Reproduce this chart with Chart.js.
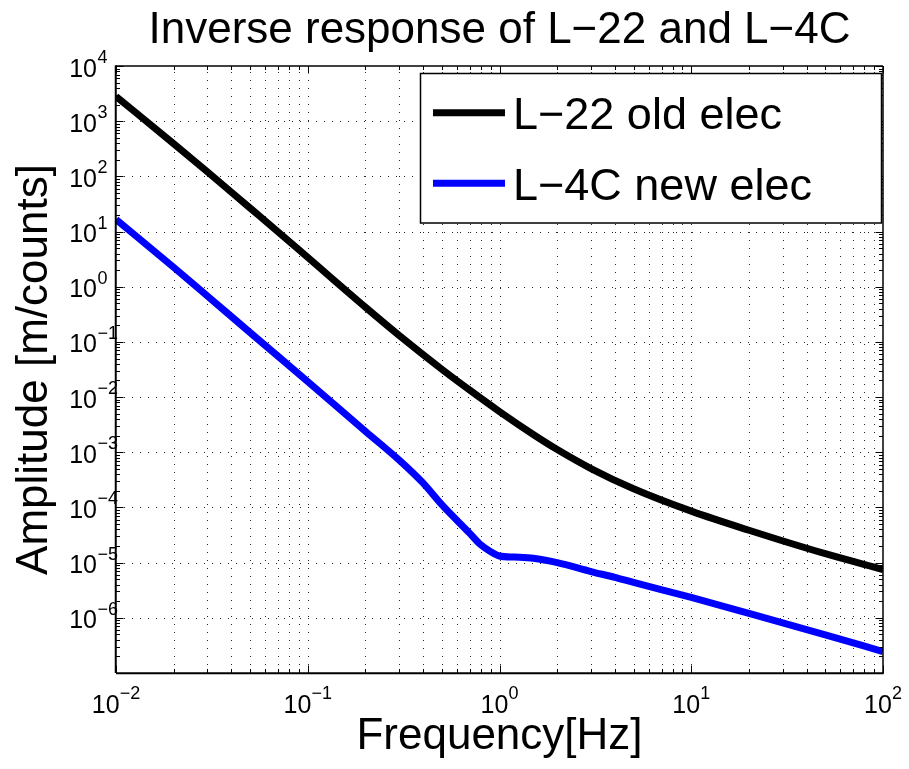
<!DOCTYPE html>
<html>
<head>
<meta charset="utf-8">
<script src="https://cdn.jsdelivr.net/npm/chart.js@4.4.1/dist/chart.umd.min.js"></script>
<style>
  html, body { margin: 0; padding: 0; background: #ffffff; }
  #wrap { width: 909px; height: 769px; position: relative; }
</style>
</head>
<body>
<div id="wrap"><canvas id="c"></canvas></div>
<script>
// ---------------- data ----------------
const titleText = 'Inverse response of L\u221222 and L\u22124C';
const xAxisTitle = 'Frequency[Hz]';
const yAxisTitle = 'Amplitude [m/counts]';
const seriesNames = ['L\u221222 old elec', 'L\u22124C new elec'];
const seriesColors = ['#000000', '#0000ff'];

const freqOld = [0.01, 0.02, 0.03, 0.05, 0.07, 0.1, 0.2, 0.3, 0.5, 0.7, 1, 1.5, 2, 3, 5, 10, 20, 50, 100];
const ampOld  = [2818, 391, 120.5, 26.7, 9.89, 3.39, 0.424, 0.1306, 0.032, 0.01334, 0.00546, 0.0021, 0.00112, 5.07e-4, 2.18e-4, 8.57e-5, 3.86e-5, 1.45e-5, 7.5e-6];

const freqNew = [0.01, 0.02, 0.03, 0.05, 0.07, 0.1, 0.2, 0.3, 0.4, 0.5, 0.7, 0.8, 0.9, 1.0, 1.2, 1.5, 2, 3, 4, 5, 10, 20, 50, 100];
const ampNew  = [16.6, 2.24, 0.676, 0.148, 0.055, 0.0191, 0.0024, 7.2e-4, 2.75e-4, 1.12e-4, 3.39e-5, 2.09e-5, 1.58e-5, 1.32e-5, 1.26e-5, 1.2e-5, 1.0e-5, 6.9e-6, 5.4e-6, 4.37e-6, 2.34e-6, 1.2e-6, 4.9e-7, 2.45e-7];

const xTickExponents = [-2, -1, 0, 1, 2];
const yTickExponents = [-6, -5, -4, -3, -2, -1, 0, 1, 2, 3, 4];
const xDecades = [-2, 2];
const yDecades = [-7, 4];

// ---------------- helpers ----------------
const FONT = '"Liberation Sans", Arial, Helvetica, sans-serif';

function decadeTicks(range) {
  const out = [];
  for (let e = range[0]; e < range[1]; e++) {
    for (let m = 1; m <= 9; m++) {
      out.push({ value: Number((m * Math.pow(10, e)).toPrecision(6)), major: m === 1 });
    }
  }
  out.push({ value: Math.pow(10, range[1]), major: true });
  return out;
}

function line(ctx, x1, y1, x2, y2) {
  ctx.beginPath(); ctx.moveTo(x1, y1); ctx.lineTo(x2, y2); ctx.stroke();
}

function expText(e) { return (e < 0 ? '\u2212' : '') + Math.abs(e); }

const decor = {
  id: 'decor',
  beforeDatasetsDraw(chart) {
    const { ctx, chartArea: a, scales: { x, y } } = chart;
    ctx.save();
    ctx.strokeStyle = 'rgba(0,0,0,0.85)';
    ctx.lineWidth = 1;
    ctx.setLineDash([1, 7]);
    x.ticks.forEach(t => {
      const px = Math.round(x.getPixelForValue(t.value)) + 0.5;
      if (px <= a.left + 1 || px >= a.right - 1) return;
      line(ctx, px, a.bottom, px, a.top);
    });
    y.ticks.forEach(t => {
      if (!t.major) return;
      const py = Math.round(y.getPixelForValue(t.value)) + 0.5;
      if (py <= a.top + 1 || py >= a.bottom - 1) return;
      line(ctx, a.left, py, a.right, py);
    });
    ctx.restore();
  },
  afterDatasetsDraw(chart) {
    const { ctx, chartArea: a, scales: { x, y } } = chart;
    ctx.save();
    ctx.setLineDash([]);
    ctx.strokeStyle = '#000';
    ctx.lineWidth = 1;
    // tick marks, inward, on all four sides
    x.ticks.forEach(t => {
      const px = Math.round(x.getPixelForValue(t.value)) + 0.5;
      const len = t.major ? 7.5 : 4;
      line(ctx, px, a.bottom, px, a.bottom - len);
      line(ctx, px, a.top, px, a.top + len);
    });
    y.ticks.forEach(t => {
      const py = Math.round(y.getPixelForValue(t.value)) + 0.5;
      const len = t.major ? 7.5 : 4;
      line(ctx, a.left, py, a.left + len, py);
      line(ctx, a.right, py, a.right - len, py);
    });
    // axes box
    ctx.lineWidth = 1.5;
    line(ctx, a.left, a.top, a.right, a.top);
    line(ctx, a.right, a.top, a.right, a.bottom);
    ctx.lineWidth = 2;
    line(ctx, a.left, a.bottom + 0.25, a.right + 0.75, a.bottom + 0.25);
    line(ctx, a.left - 0.25, a.top - 0.75, a.left - 0.25, a.bottom);

    // tick labels 10^n
    ctx.fillStyle = '#000';
    ctx.textBaseline = 'alphabetic';
    const big = '25px ' + FONT, small = '18px ' + FONT;
    xTickExponents.forEach(e => {
      const px = x.getPixelForValue(Math.pow(10, e));
      ctx.font = big; const w1 = ctx.measureText('10').width;
      ctx.font = small; const w2 = ctx.measureText(expText(e)).width;
      const start = px - (w1 + w2) / 2;
      ctx.font = big; ctx.textAlign = 'left';
      ctx.fillText('10', start, a.bottom + 40);
      ctx.font = small;
      ctx.fillText(expText(e), start + w1, a.bottom + 26);
    });
    yTickExponents.forEach(e => {
      const py = y.getPixelForValue(Math.pow(10, e));
      const xr = a.left - 19;
      ctx.font = big; ctx.textAlign = 'right';
      ctx.fillText('10', xr, py + 10.5);
      ctx.font = small; ctx.textAlign = 'left';
      ctx.fillText(expText(e), xr + 0.5, py - 3);
    });

    // legend
    const bx = 420.5, by = 73.5, bw = 461, bh = 149.5;
    ctx.fillStyle = '#fff';
    ctx.fillRect(bx, by, bw, bh);
    ctx.strokeStyle = '#000';
    ctx.lineWidth = 1.5;
    ctx.strokeRect(bx, by, bw, bh);
    const rows = [112.7, 183.3];
    chart.data.datasets.forEach((ds, i) => {
      ctx.strokeStyle = ds.borderColor;
      ctx.lineWidth = 7;
      ctx.lineCap = 'butt';
      line(ctx, 433, rows[i], 505, rows[i]);
      ctx.fillStyle = '#000';
      ctx.font = '45px ' + FONT;
      ctx.textAlign = 'left';
      ctx.fillText(ds.label, 513, rows[i] + 16.5);
    });
    ctx.restore();
  }
};

const toPts = (xs, ys) => xs.map((v, i) => ({ x: v, y: ys[i] }));

new Chart(document.getElementById('c'), {
  type: 'line',
  data: {
    datasets: [
      { label: seriesNames[0], data: toPts(freqOld, ampOld), borderColor: seriesColors[0], backgroundColor: seriesColors[0] },
      { label: seriesNames[1], data: toPts(freqNew, ampNew), borderColor: seriesColors[1], backgroundColor: seriesColors[1] }
    ]
  },
  options: {
    responsive: true,
    maintainAspectRatio: false,
    animation: false,
    events: [],
    layout: { padding: { left: 0, right: 26, top: 0, bottom: 0 } },
    elements: {
      point: { radius: 0 },
      line: { borderWidth: 7, cubicInterpolationMode: 'monotone', borderCapStyle: 'butt', borderJoinStyle: 'round', fill: false }
    },
    datasets: { line: { clip: 0 } },
    plugins: {
      legend: { display: false },
      tooltip: { enabled: false },
      title: {
        display: true, text: titleText, color: '#000', fullSize: false,
        font: { family: FONT, size: 44, weight: 'normal', lineHeight: 1.2 },
        padding: { top: 4, bottom: 9.2 }
      }
    },
    scales: {
      x: {
        type: 'logarithmic', min: 0.01, max: 100,
        afterBuildTicks: (s) => { s.ticks = decadeTicks(xDecades); },
        ticks: { display: false },
        grid: { display: false, drawTicks: false },
        border: { display: false },
        title: { display: true, text: xAxisTitle, color: '#000',
                 font: { family: FONT, size: 44, weight: 'normal', lineHeight: 1.2 },
                 padding: { top: 37.6, bottom: 5.6 } }
      },
      y: {
        type: 'logarithmic', min: 1e-7, max: 1e4,
        afterBuildTicks: (s) => { s.ticks = decadeTicks(yDecades); },
        ticks: { display: false },
        grid: { display: false, drawTicks: false },
        border: { display: false },
        title: { display: true, text: yAxisTitle, color: '#000',
                 font: { family: FONT, size: 44, weight: 'normal', lineHeight: 1.2 },
                 padding: { top: 8, bottom: 55.2 } }
      }
    }
  },
  plugins: [decor]
});
</script>
</body>
</html>
